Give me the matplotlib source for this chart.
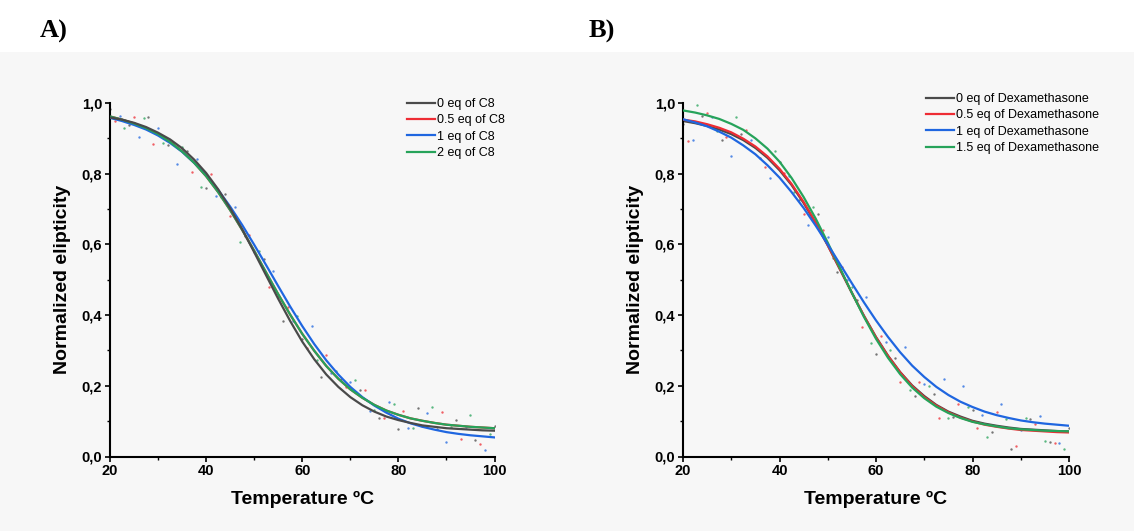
import matplotlib
matplotlib.use("Agg")
import matplotlib.pyplot as plt
from matplotlib.ticker import FuncFormatter, MultipleLocator
from matplotlib.patches import Rectangle

# ---------------- data ----------------
fit_T = [20, 22.5, 25, 27.5, 30, 32.5, 35, 37.5, 40, 42.5, 45, 47.5, 50,
         52.5, 55, 57.5, 60, 62.5, 65, 67.5, 70, 72.5, 75, 77.5, 80,
         82.5, 85, 87.5, 90, 92.5, 95, 97.5, 100]

# Panel A (C8) fitted curves
A_fit_0 = [0.959, 0.953, 0.944, 0.932, 0.916, 0.897, 0.872, 0.840, 0.802, 0.756, 0.702, 0.643, 0.578,
           0.512, 0.446, 0.383, 0.325, 0.275, 0.232, 0.197, 0.168, 0.145, 0.127, 0.113, 0.103,
           0.095, 0.088, 0.084, 0.080, 0.078, 0.076, 0.074, 0.073]
A_fit_05 = [0.962, 0.953, 0.942, 0.929, 0.912, 0.890, 0.863, 0.831, 0.793, 0.748, 0.697, 0.641, 0.582,
            0.520, 0.459, 0.401, 0.347, 0.299, 0.256, 0.220, 0.190, 0.166, 0.146, 0.130, 0.118,
            0.108, 0.101, 0.095, 0.090, 0.087, 0.084, 0.082, 0.080]
A_fit_1 = [0.958, 0.949, 0.938, 0.925, 0.908, 0.887, 0.862, 0.831, 0.796, 0.754, 0.707, 0.655, 0.599,
           0.541, 0.482, 0.424, 0.369, 0.318, 0.272, 0.232, 0.197, 0.168, 0.144, 0.124, 0.107,
           0.094, 0.084, 0.076, 0.069, 0.064, 0.060, 0.057, 0.054]
A_fit_2 = [0.962, 0.953, 0.942, 0.929, 0.912, 0.890, 0.863, 0.831, 0.793, 0.748, 0.697, 0.641, 0.582,
           0.520, 0.459, 0.401, 0.347, 0.299, 0.256, 0.220, 0.190, 0.166, 0.146, 0.130, 0.118,
           0.108, 0.101, 0.095, 0.090, 0.087, 0.084, 0.082, 0.080]

# Panel B (Dexamethasone) fitted curves
B_fit_0 = [0.949, 0.943, 0.935, 0.925, 0.912, 0.895, 0.873, 0.845, 0.810, 0.768, 0.717, 0.660, 0.597,
           0.530, 0.463, 0.398, 0.338, 0.285, 0.239, 0.201, 0.171, 0.146, 0.127, 0.113, 0.101,
           0.093, 0.087, 0.082, 0.078, 0.076, 0.074, 0.072, 0.071]
B_fit_05 = [0.953, 0.948, 0.940, 0.930, 0.917, 0.899, 0.877, 0.849, 0.814, 0.771, 0.720, 0.662, 0.598,
            0.531, 0.463, 0.398, 0.337, 0.284, 0.238, 0.199, 0.168, 0.144, 0.125, 0.110, 0.099,
            0.090, 0.084, 0.079, 0.075, 0.073, 0.071, 0.069, 0.068]
B_fit_1 = [0.954, 0.945, 0.934, 0.919, 0.902, 0.880, 0.855, 0.824, 0.789, 0.748, 0.703, 0.653, 0.600,
           0.545, 0.490, 0.436, 0.385, 0.338, 0.295, 0.257, 0.225, 0.197, 0.174, 0.155, 0.140,
           0.127, 0.117, 0.109, 0.102, 0.097, 0.093, 0.090, 0.087]
B_fit_15 = [0.979, 0.973, 0.965, 0.955, 0.941, 0.924, 0.900, 0.871, 0.834, 0.788, 0.734, 0.673, 0.605,
            0.534, 0.463, 0.395, 0.333, 0.279, 0.233, 0.195, 0.165, 0.141, 0.123, 0.109, 0.098,
            0.091, 0.085, 0.080, 0.077, 0.075, 0.073, 0.072, 0.071]

# measured points (scatter)
pts_T_0 = [20, 24, 28, 32, 36, 40, 44, 48, 52, 56, 60, 64, 68, 72, 76, 80, 84, 88, 92, 96, 100]
pts_T_05 = [21, 25, 29, 33, 37, 41, 45, 49, 53, 57, 61, 65, 69, 73, 77, 81, 85, 89, 93, 97]
pts_T_1 = [22, 26, 30, 34, 38, 42, 46, 50, 54, 58, 62, 66, 70, 74, 78, 82, 86, 90, 94, 98]
pts_T_2 = [23, 27, 31, 35, 39, 43, 47, 51, 55, 59, 63, 67, 71, 75, 79, 83, 87, 91, 95, 99]

A_pts_0 = [0.982, 0.938, 0.961, 0.881, 0.864, 0.760, 0.742, 0.623, 0.560, 0.383, 0.333, 0.224, 0.220, 0.188, 0.108, 0.078, 0.136, 0.078, 0.102, 0.048, 0.086]
A_pts_05 = [0.948, 0.960, 0.884, 0.886, 0.804, 0.800, 0.680, 0.626, 0.480, 0.424, 0.308, 0.288, 0.197, 0.189, 0.110, 0.129, 0.085, 0.126, 0.050, 0.035]
A_pts_1 = [0.963, 0.904, 0.930, 0.828, 0.842, 0.738, 0.707, 0.578, 0.526, 0.382, 0.368, 0.237, 0.210, 0.128, 0.155, 0.081, 0.124, 0.041, 0.083, 0.017]
A_pts_2 = [0.929, 0.957, 0.887, 0.875, 0.763, 0.735, 0.608, 0.580, 0.450, 0.398, 0.273, 0.243, 0.216, 0.132, 0.148, 0.082, 0.141, 0.083, 0.117, 0.063]

B_pts_0 = [0.940, 0.962, 0.896, 0.911, 0.843, 0.832, 0.727, 0.686, 0.523, 0.444, 0.290, 0.278, 0.171, 0.176, 0.113, 0.131, 0.069, 0.021, 0.105, 0.042, 0.080]
B_pts_05 = [0.893, 0.973, 0.904, 0.923, 0.820, 0.801, 0.686, 0.642, 0.535, 0.367, 0.340, 0.210, 0.210, 0.109, 0.149, 0.080, 0.127, 0.029, 0.093, 0.039]
B_pts_1 = [0.895, 0.960, 0.849, 0.895, 0.787, 0.793, 0.656, 0.620, 0.500, 0.450, 0.323, 0.310, 0.205, 0.219, 0.200, 0.117, 0.148, 0.074, 0.115, 0.039]
B_pts_15 = [0.995, 0.921, 0.959, 0.875, 0.864, 0.747, 0.706, 0.562, 0.480, 0.320, 0.300, 0.188, 0.200, 0.110, 0.140, 0.055, 0.105, 0.108, 0.043, 0.021]

A_labels = ["0 eq of C8", "0.5 eq of C8", "1 eq of C8", "2 eq of C8"]
B_labels = ["0 eq of Dexamethasone", "0.5 eq of Dexamethasone",
            "1 eq of Dexamethasone", "1.5 eq of Dexamethasone"]

colors = ["#4a4a4a", "#ee2c34", "#1f66e0", "#26a35a"]

# ---------------- figure ----------------
W, H = 1134, 531
fig = plt.figure(figsize=(W / 100, H / 100), dpi=100)
fig.patch.set_facecolor("white")
bg = Rectangle((0, 0), 1, (H - 52) / H, transform=fig.transFigure,
               facecolor="#f7f7f7", edgecolor="none", zorder=-10)
fig.add_artist(bg)

def fx(px):
    return px / W

def fy(py):
    return 1 - py / H

axA = fig.add_axes([fx(110), fy(456.5), fx(494.5) - fx(110), fy(103) - fy(456.5)])
axB = fig.add_axes([fx(683), fy(456.5), fx(1069) - fx(683), fy(103) - fy(456.5)])

comma = FuncFormatter(lambda v, p: f"{v:.1f}".replace(".", ","))

def panel(ax, fits, pts, labels, order, leg_x):
    ax.set_facecolor("none")
    pts_T = [pts_T_0, pts_T_05, pts_T_1, pts_T_2]
    for i in range(4):
        ax.scatter(pts_T[i], pts[i], s=3, color=colors[i], alpha=0.75,
                   linewidths=0, zorder=1)
    handles = [None] * 4
    for z, i in enumerate(order):
        ln, = ax.plot(fit_T, fits[i], color=colors[i], lw=1.6, zorder=2 + z,
                      solid_joinstyle="round")
        handles[i] = ln
    ax.set_xlim(20, 100)
    ax.set_ylim(0, 1.0)
    ax.xaxis.set_major_locator(MultipleLocator(20))
    ax.xaxis.set_minor_locator(MultipleLocator(10))
    ax.yaxis.set_major_locator(MultipleLocator(0.2))
    ax.yaxis.set_minor_locator(MultipleLocator(0.1))
    ax.yaxis.set_major_formatter(comma)
    for s in ("top", "right"):
        ax.spines[s].set_visible(False)
    for s in ("left", "bottom"):
        ax.spines[s].set_linewidth(1.5)
        ax.spines[s].set_color("black")
    ax.tick_params(which="major", direction="out", length=3.5, width=1.2,
                   labelsize=10.5, pad=2)
    ax.tick_params(which="minor", direction="out", length=2, width=1)
    for lab in ax.get_xticklabels() + ax.get_yticklabels():
        lab.set_fontweight("bold")
        lab.set_family("Liberation Sans")
    ax.set_xlabel("Temperature ºC", fontsize=14, fontweight="bold",
                  family="Liberation Sans", labelpad=9)
    ax.set_ylabel("Normalized elipticity", fontsize=14, fontweight="bold",
                  family="Liberation Sans", labelpad=8)
    leg = ax.legend(handles, labels, loc="upper left",
                    bbox_to_anchor=leg_x, frameon=False,
                    prop={"family": "Liberation Sans", "size": 9},
                    handlelength=2.2, handletextpad=0.2, labelspacing=0.35,
                    borderaxespad=0)
    return leg

panel(axA, [A_fit_0, A_fit_05, A_fit_1, A_fit_2],
      [A_pts_0, A_pts_05, A_pts_1, A_pts_2], A_labels, [1, 2, 3, 0],
      ((402 - 110) / 384.5, 1.0 + 10 / 353.5))
panel(axB, [B_fit_0, B_fit_05, B_fit_1, B_fit_15],
      [B_pts_0, B_pts_05, B_pts_1, B_pts_15], B_labels, [0, 1, 3, 2],
      ((921 - 683) / 386, 1.0 + 15 / 353.5))

fig.text(fx(40), fy(31), "A)", fontsize=19, fontweight="bold",
         family="Liberation Serif", va="center", ha="left")
fig.text(fx(589), fy(31), "B)", fontsize=19, fontweight="bold",
         family="Liberation Serif", va="center", ha="left")

fig.savefig("out.png", dpi=100, facecolor=fig.get_facecolor())
